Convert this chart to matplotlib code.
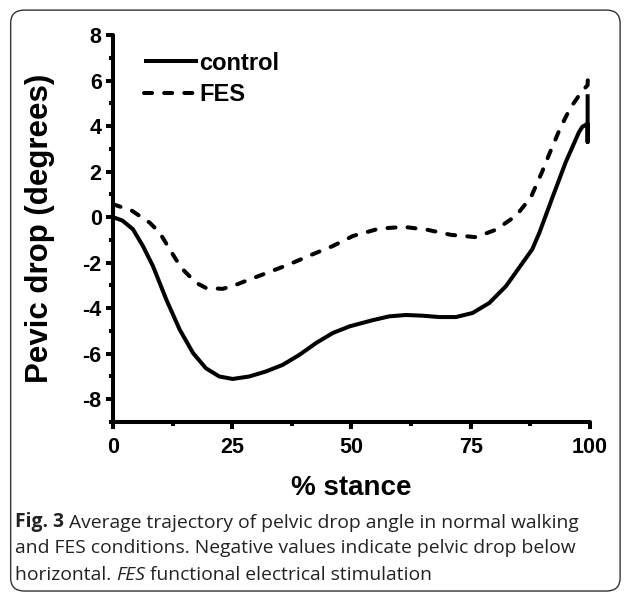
import matplotlib.pyplot as plt
from matplotlib.patches import FancyBboxPatch
from matplotlib.ticker import MultipleLocator

# % stance vs pelvic drop (degrees)
control_x = [0, 2, 4.2, 6.3, 8.4, 11.2, 14, 16.8, 19.5, 22.3, 25.1, 28.6, 32.1, 35.6,
             39.1, 42.6, 46.1, 49.6, 54.4, 57.9, 61.4, 64.9, 68.4, 71.9, 75.4, 78.9,
             82.4, 85.9, 87.9, 89.4, 92.1, 94.9, 97.7, 98.4, 99.5, 99.5, 99.5]
control_y = [0, -0.15, -0.53, -1.27, -2.15, -3.62, -4.94, -5.97, -6.64, -7.0, -7.11,
             -7.0, -6.78, -6.49, -6.05, -5.53, -5.09, -4.8, -4.53, -4.36, -4.30, -4.33,
             -4.39, -4.39, -4.21, -3.77, -3.03, -2.0, -1.41, -0.68, 0.85, 2.41, 3.74,
             3.97, 4.1, 3.3, 5.4]

fes_x = [0, 4, 7.7, 9.8, 11.9, 14.3, 17.4, 19.5, 23, 25.1, 27.9, 32.8, 37, 41.9, 46.1,
         50.3, 55.9, 61.1, 66, 70.9, 76.1, 80.3, 84.5, 87.6, 89.9, 91.6, 93.7, 95.8,
         98.2, 99.5, 99.6]
fes_y = [0.57, 0.28, -0.24, -0.68, -1.41, -2.22, -2.88, -3.11, -3.15, -3.03, -2.8,
         -2.41, -2.07, -1.63, -1.27, -0.83, -0.5, -0.43, -0.56, -0.78, -0.88, -0.55,
         0.06, 0.87, 1.96, 2.84, 3.88, 4.77, 5.5, 5.8, 6.4]

x_ticks = [0, 25, 50, 75, 100]
y_ticks = [-8, -6, -4, -2, 0, 2, 4, 6, 8]

plt.rcParams['font.family'] = ['Liberation Sans', 'DejaVu Sans']
plt.rcParams['axes.unicode_minus'] = False

fig = plt.figure(figsize=(6.27, 5.94), dpi=100)
ax = fig.add_axes([0.180, 0.2896, 0.761, 0.6514])

# frame around figure + caption
box = FancyBboxPatch((0.017, 0.005), 0.972, 0.978, boxstyle="round,pad=0,rounding_size=0.022",
                     transform=fig.transFigure, facecolor='none', edgecolor='#333333',
                     linewidth=1.0, zorder=0)
fig.patches.append(box)

lw = 2.9
ax.plot(control_x, control_y, color='black', lw=lw, solid_capstyle='butt', label='control')
ax.plot(fes_x, fes_y, color='black', lw=lw, dashes=(2.0, 3.0), dash_capstyle='round',
        label='FES')

ax.set_xlim(0, 100)
ax.set_ylim(-9, 8)
ax.set_xticks(x_ticks)
ax.set_yticks(y_ticks)
ax.xaxis.set_minor_locator(MultipleLocator(12.5))
ax.yaxis.set_minor_locator(MultipleLocator(1))

for s in ['top', 'right']:
    ax.spines[s].set_visible(False)
for s in ['left', 'bottom']:
    ax.spines[s].set_linewidth(2.9)
    ax.spines[s].set_capstyle('round')

ax.tick_params(which='major', length=5, width=2.9, labelsize=15.5)
ax.tick_params(axis='x', which='major', pad=6)
ax.tick_params(axis='y', which='major', pad=3)
ax.tick_params(which='minor', length=3, width=2.9)
for lab in ax.get_xticklabels() + ax.get_yticklabels():
    lab.set_fontweight('bold')

ax.set_xlabel('% stance', fontsize=20, fontweight='bold', labelpad=12)
ax.set_ylabel('Pevic drop (degrees)', fontsize=22.5, fontweight='bold', labelpad=20)

leg = ax.legend(loc='upper left', bbox_to_anchor=(0.03, 1.0), frameon=False,
                prop={'weight': 'bold', 'size': 17}, handlelength=2.3,
                handletextpad=0.05, labelspacing=0.35, borderaxespad=0.3)

# caption, mixed styles
cap_font = ['Open Sans', 'DejaVu Sans']
cs = 13.85
col = '#222222'
t = fig.text(0.024, 0.1128, 'Fig. 3', fontsize=cs, fontweight='bold', family=cap_font,
             va='baseline', color=col)
ax.annotate(' Average trajectory of pelvic drop angle in normal walking',
            xy=(1, 0), xycoords=t, va='bottom', ha='left', fontsize=cs,
            family=cap_font, color=col)
fig.text(0.024, 0.069, 'and FES conditions. Negative values indicate pelvic drop below',
         fontsize=cs, family=cap_font, va='baseline', color=col)
t3 = fig.text(0.024, 0.0236, 'horizontal. ', fontsize=cs, family=cap_font, va='baseline',
              color=col)
t4 = ax.annotate('FES', xy=(1, 0), xycoords=t3, va='bottom', ha='left', fontsize=cs,
                 family=cap_font, style='italic', color=col)
ax.annotate(' functional electrical stimulation', xy=(1, 0), xycoords=t4, va='bottom',
            ha='left', fontsize=cs, family=cap_font, color=col)

fig.savefig('out.png', dpi=100)
